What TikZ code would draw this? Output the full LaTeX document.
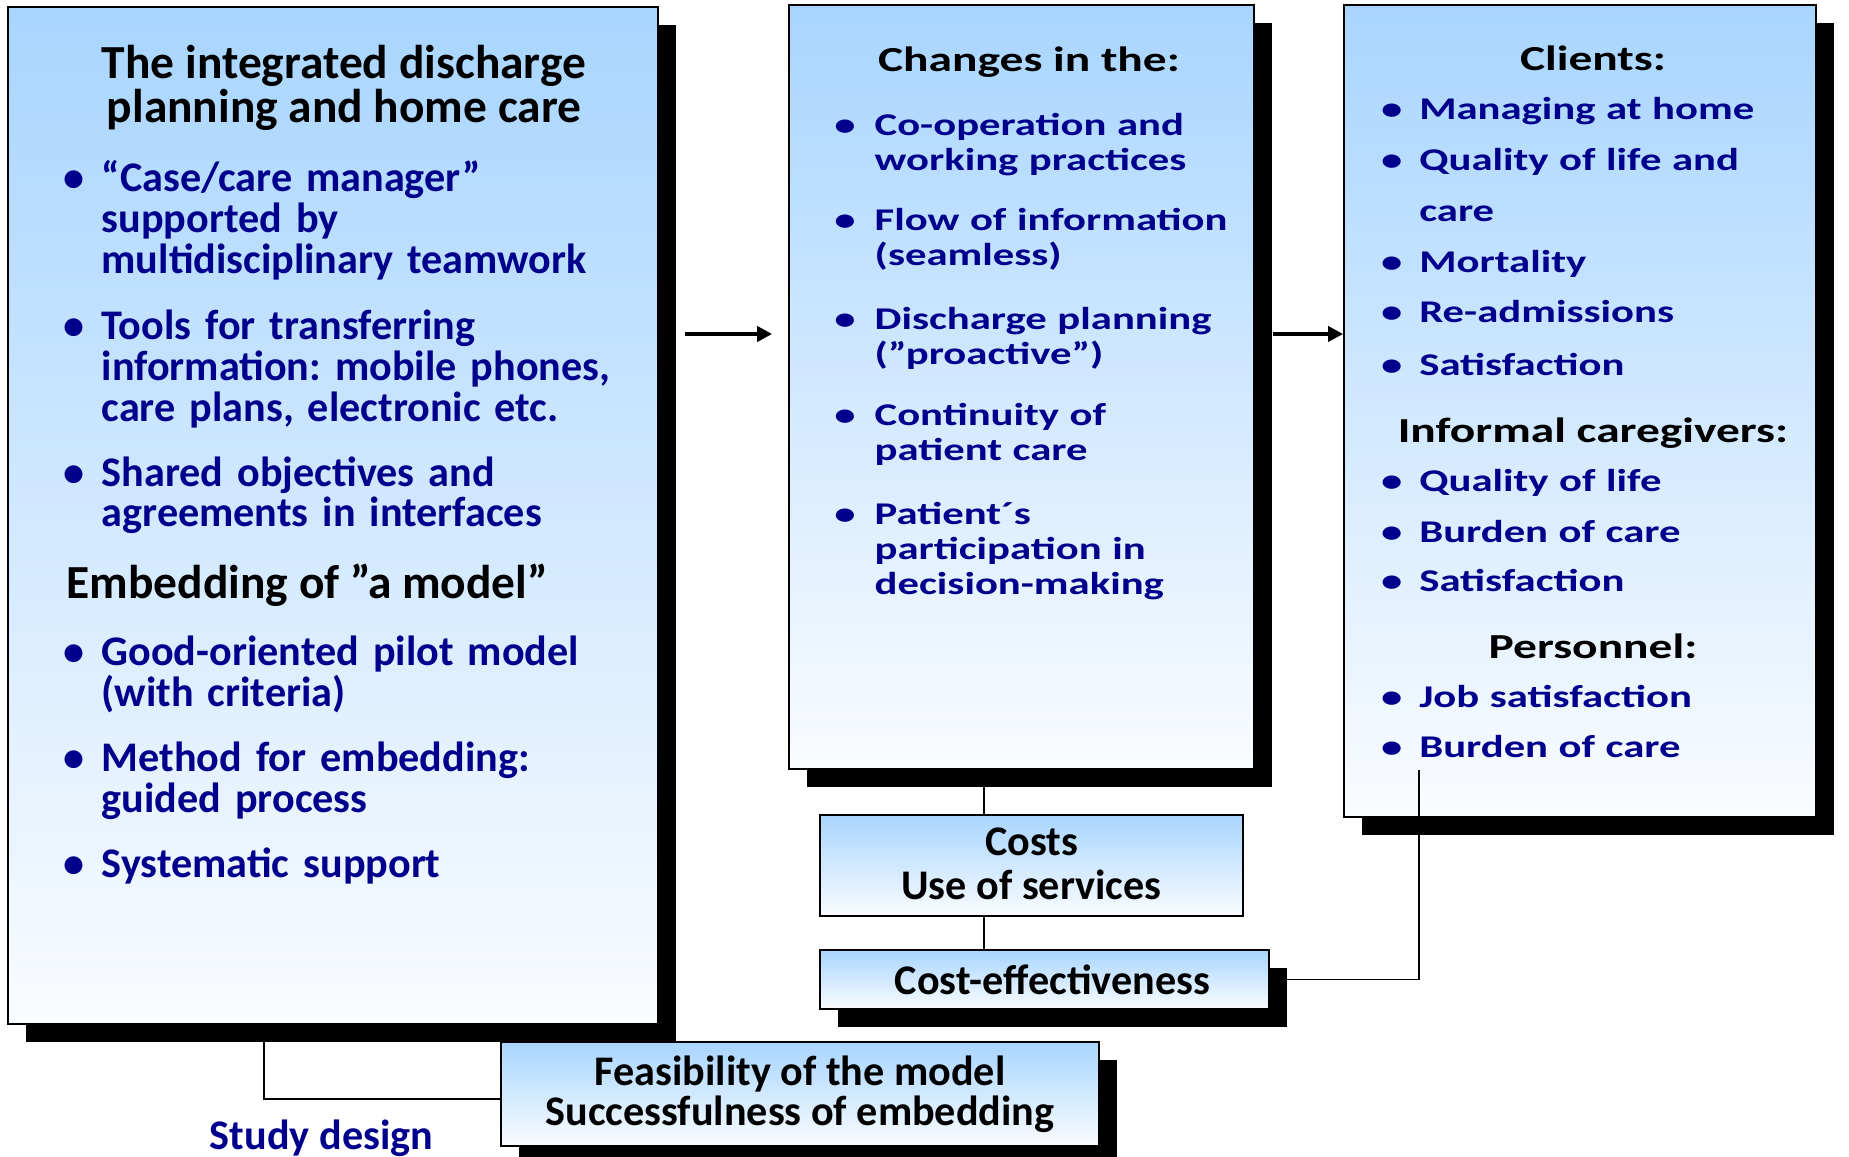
\documentclass[tikz,border=0pt]{standalone}
\usepackage{fontspec}
\setmainfont{Carlito}
\newfontfamily\wideface{Carlito}[FakeStretch=1.35]
\usepackage{tikz}
\usetikzlibrary{arrows.meta,shadows,positioning}
\definecolor{panelTop}{RGB}{168,213,255}
\definecolor{panelBottom}{RGB}{250,252,255}
\definecolor{itemNavy}{RGB}{0,0,140}
\newcommand{\dotmark}[1]{\llap{\textbullet\hspace{#1}}}
\frenchspacing

\begin{document}
\begin{tikzpicture}[
  panel/.style={draw, line width=0.5pt, top color=panelTop, bottom color=panelBottom, inner sep=0pt, align=center},
  boxshadow/.style={drop shadow={shadow xshift=0.18cm, shadow yshift=-0.18cm, fill=black, opacity=1}},
  planhead/.style={inner sep=0pt, align=center, font=\bfseries\fontsize{13.5}{12.8}\selectfont},
  planitem/.style={anchor=base west, inner sep=0pt, text width=5.6cm, align=left, text=itemNavy, font=\bfseries\fontsize{12}{11.6}\selectfont},
  widehead/.style={anchor=base, inner sep=0pt, font=\wideface\bfseries\fontsize{10}{12}\selectfont},
  wideitem/.style={anchor=base west, inner sep=0pt, text width=4cm, align=left, text=itemNavy, font=\wideface\bfseries\fontsize{9}{#1}\selectfont},
  boxtext/.style={font=\bfseries\fontsize{12}{#1}\selectfont},
  flow/.style={-{Triangle[length=0.15cm, width=0.15cm]}, line width=1.3pt},
  link/.style={line width=0.5pt}
]
  \useasboundingbox (0,0) rectangle (18.49,11.57);

  % Panels
  \node[panel, boxshadow, minimum width=6.50cm, minimum height=10.17cm] (plan) at (3.33,6.415) {};
  \node[panel, boxshadow, minimum width=4.65cm, minimum height=7.64cm] (changes) at (10.215,7.70) {};
  \node[panel, boxshadow, minimum width=4.72cm, minimum height=8.12cm] (outcomes) at (15.80,7.46) {};
  \node[panel, boxtext=12.5pt, minimum width=4.23cm, minimum height=1.01cm] (costs) at (10.315,2.915) {\raisebox{0.035cm}{\shortstack{Costs\\[1pt]Use of services}}};
  \node[panel, boxshadow, boxtext=12pt, minimum width=4.49cm, minimum height=0.59cm] (costeff) at (10.445,1.775) {\hspace*{0.16cm}Cost-effectiveness};
  \node[panel, boxshadow, boxtext=11.4pt, minimum width=5.98cm, minimum height=1.04cm] (feasib) at (8.00,0.63) {Feasibility of the model\\Successfulness of embedding};

  % Model and its embedding
  \node[planhead, anchor=base] (plantitle) at (3.44,10.34) {The integrated discharge\\planning and home care};
  \node[planitem] (case) at (1.01,9.655) {\dotmark{0.17cm}“Case/care manager”\\supported by\\multidisciplinary teamwork};
  \node[planitem] (tools) at (1.01,8.17) {\dotmark{0.17cm}Tools for transferring\\information: mobile phones,\\care plans, electronic etc.};
  \node[planitem] (shared) at (1.01,6.708) {\dotmark{0.17cm}Shared objectives and\\agreements in interfaces};
  \node[planhead, anchor=base west] (embtitle) at (0.66,5.585) {Embedding of ”a model”};
  \node[planitem] (pilot) at (1.01,4.915) {\dotmark{0.17cm}Good-oriented pilot model\\(with criteria)};
  \node[planitem] (method) at (1.01,3.855) {\dotmark{0.17cm}Method for embedding:\\guided process};
  \node[planitem] (support) at (1.01,2.79) {\dotmark{0.17cm}Systematic support};

  % Changes
  \node[widehead] (changetitle) at (10.29,10.855) {Changes in the:};
  \foreach \y/\t [count=\i] in {10.215/{Co-operation and\\working practices},
      9.265/{Flow of information\\(seamless)},
      8.275/{Discharge planning\\(”proactive”)},
      7.315/{Continuity of\\patient care},
      6.325/{Patient´s\\participation in\\decision-making}}
    \node[wideitem=10pt] (change\i) at (8.74,\y) {\dotmark{0.19cm}\t};

  % Outcomes
  \node[widehead] (clients) at (15.93,10.865) {Clients:};
  \foreach \y/\t [count=\i] in {10.37/Managing at home, 9.863/{Quality of life and\\care},
      8.849/Mortality, 8.342/Re-admissions, 7.811/Satisfaction}
    \node[wideitem=14.5pt] (client\i) at (14.186,\y) {\dotmark{0.17cm}\t};
  \node[widehead] (informal) at (15.93,7.145) {Informal caregivers:};
  \foreach \y/\t [count=\i] in {6.655/Quality of life, 6.149/Burden of care, 5.653/Satisfaction}
    \node[wideitem=14.5pt] (carer\i) at (14.186,\y) {\dotmark{0.17cm}\t};
  \node[widehead] (personnel) at (15.93,4.985) {Personnel:};
  \foreach \y/\t [count=\i] in {4.498/Job satisfaction, 3.991/Burden of care}
    \node[wideitem=14.5pt] (staff\i) at (14.186,\y) {\dotmark{0.17cm}\t};

  \node[anchor=base, inner sep=0pt, text=itemNavy, font=\bfseries\fontsize{12}{14}\selectfont] (design) at (3.215,0.07) {Study design};

  % Connectors
  \coordinate (flowrow) at (0,8.23);
  \coordinate (costcol) at (9.84,0);
  \coordinate (designcol) at (2.64,0);
  \coordinate (burdenend) at (14.19,3.87);
  \draw[flow, shorten <=0.26cm, shorten >=0.16cm] (plan.east |- flowrow) -- (changes.west |- flowrow);
  \draw[flow, shorten <=0.18cm] (changes.east |- flowrow) -- (outcomes.west |- flowrow);
  \draw[link] (changes.south -| costcol) -- (costs.north -| costcol);
  \draw[link] (costs.south -| costcol) -- (costeff.north -| costcol);
  \draw[link] (costeff.east) -| (burdenend);
  \draw[link] (plan.south -| designcol) |- ([yshift=-0.05cm]feasib.west);
\end{tikzpicture}
\end{document}
